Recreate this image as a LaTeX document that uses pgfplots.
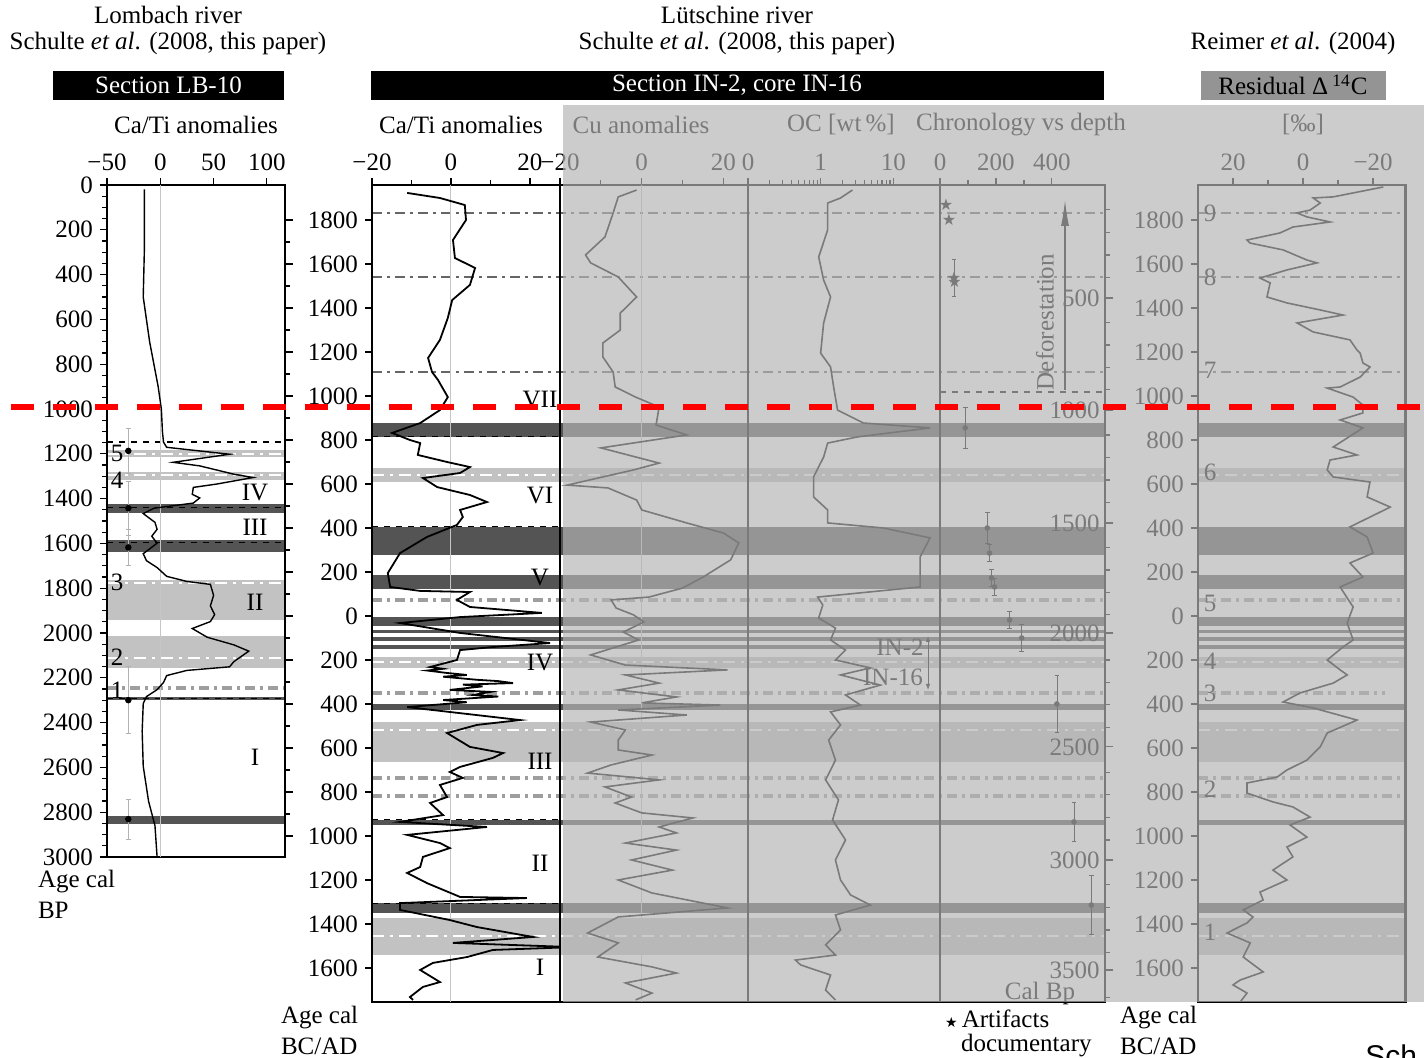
\documentclass[border=0pt]{standalone}
\usepackage{fontspec}
\setmainfont{Liberation Serif}
\newfontfamily\sansf{Liberation Sans}
\newfontfamily\dejavu{DejaVu Sans}
\usepackage{pgfplots}
\pgfplotsset{compat=1.18}
\usetikzlibrary{arrows.meta}

\definecolor{bandDark}{gray}{0.33}
\definecolor{bandLight}{gray}{0.76}
\definecolor{dotline}{gray}{0.62}
\definecolor{thinline}{gray}{0.40}
\definecolor{overlaygray}{RGB}{180,180,180}
\definecolor{resbox}{RGB}{148,148,148}
\newcommand{\fs}{\fontsize{12.5}{14}\selectfont}

\pgfplotsset{
  panel/.style={scale only axis, anchor=south west,
    axis line style={line width=0.9pt},
    tick style={black, line width=0.6pt},
    major tick length=3.5pt, minor tick length=2.5pt,
    tick align=outside,
    xtick pos=right, xticklabel pos=right,
    ytick pos=left,
    tick label style={font=\fs},
    /pgf/number format/assume math mode=true,
    /pgf/number format/1000 sep={},
  },
  bands/.style={scale only axis, anchor=south west, hide axis, xmin=0, xmax=1, clip=false},
}
\tikzset{
  lightdash/.style={white, line width=1.2pt, dash pattern=on 6pt off 3pt on 1.5pt off 3pt},
  grdot/.style={dotline, line width=2pt, dash pattern=on 5pt off 2.5pt on 1.5pt off 2.5pt},
  grthin/.style={thinline, line width=0.8pt, dash pattern=on 5pt off 2.5pt on 1.5pt off 2.5pt},
}

\begin{document}
\begin{tikzpicture}[font=\fs]
\useasboundingbox (0,0) rectangle (712pt,529pt);

% ---------- bands, Lutschine panels ----------
\begin{axis}[bands, at={(186pt,28pt)}, width=366.5pt, height=408.5pt, ymin=-1754.5, ymax=1959.1]
\fill[bandDark] (axis cs:0,877) rectangle (axis cs:1,814);
\fill[bandDark] (axis cs:0,405) rectangle (axis cs:1,277);
\fill[bandDark] (axis cs:0,186) rectangle (axis cs:1,123);
\fill[bandDark] (axis cs:0,-5) rectangle (axis cs:1,-45);
\fill[bandDark] (axis cs:0,-64) rectangle (axis cs:1,-77);
\fill[bandDark] (axis cs:0,-95) rectangle (axis cs:1,-114);
\fill[bandDark] (axis cs:0,-132) rectangle (axis cs:1,-150);
\fill[bandDark] (axis cs:0,-400) rectangle (axis cs:1,-427);
\fill[bandDark] (axis cs:0,-927) rectangle (axis cs:1,-950);
\fill[bandDark] (axis cs:0,-1305) rectangle (axis cs:1,-1350);
\fill[bandLight] (axis cs:0,673) rectangle (axis cs:1,609);
\fill[bandLight] (axis cs:0,-186) rectangle (axis cs:1,-236);
\fill[bandLight] (axis cs:0,-482) rectangle (axis cs:1,-664);
\fill[bandLight] (axis cs:0,-1373) rectangle (axis cs:1,-1541);
\draw[lightdash] (axis cs:0,641) -- (axis cs:1,641);
\draw[lightdash] (axis cs:0,-209) -- (axis cs:1,-209);
\draw[lightdash] (axis cs:0,-518) -- (axis cs:1,-518);
\draw[lightdash] (axis cs:0,-1455) -- (axis cs:1,-1455);
\draw[grthin] (axis cs:0,1832) -- (axis cs:1,1832);
\draw[grthin] (axis cs:0,1541) -- (axis cs:1,1541);
\draw[grthin] (axis cs:0,1109) -- (axis cs:1,1109);
\draw[grdot] (axis cs:0,73) -- (axis cs:1,73);
\draw[grdot] (axis cs:0,-350) -- (axis cs:1,-350);
\draw[grdot] (axis cs:0,-736) -- (axis cs:1,-736);
\draw[grdot] (axis cs:0,-818) -- (axis cs:1,-818);
\draw[black, dashed, line width=0.5pt] (axis cs:0,814) -- (axis cs:0.26,814);
\draw[black, dashed, line width=0.5pt] (axis cs:0,405) -- (axis cs:0.26,405);
\draw[black, dashed, line width=0.5pt] (axis cs:0,-927) -- (axis cs:0.26,-927);
\draw[black, dashed, line width=0.5pt] (axis cs:0,-1305) -- (axis cs:0.26,-1305);
\end{axis}

% ---------- bands, residual panel ----------
\begin{axis}[bands, at={(599pt,28pt)}, width=104pt, height=408.5pt, ymin=-1754.5, ymax=1959.1]
\fill[bandDark] (axis cs:0,877) rectangle (axis cs:1,814);
\fill[bandDark] (axis cs:0,405) rectangle (axis cs:1,277);
\fill[bandDark] (axis cs:0,186) rectangle (axis cs:1,123);
\fill[bandDark] (axis cs:0,-5) rectangle (axis cs:1,-45);
\fill[bandDark] (axis cs:0,-64) rectangle (axis cs:1,-77);
\fill[bandDark] (axis cs:0,-95) rectangle (axis cs:1,-114);
\fill[bandDark] (axis cs:0,-132) rectangle (axis cs:1,-150);
\fill[bandDark] (axis cs:0,-400) rectangle (axis cs:1,-427);
\fill[bandDark] (axis cs:0,-927) rectangle (axis cs:1,-950);
\fill[bandDark] (axis cs:0,-1305) rectangle (axis cs:1,-1350);
\fill[bandLight] (axis cs:0,673) rectangle (axis cs:1,609);
\fill[bandLight] (axis cs:0,-186) rectangle (axis cs:1,-236);
\fill[bandLight] (axis cs:0,-482) rectangle (axis cs:1,-664);
\fill[bandLight] (axis cs:0,-1373) rectangle (axis cs:1,-1541);
\draw[lightdash] (axis cs:0,641) -- (axis cs:1,641);
\draw[lightdash] (axis cs:0,-209) -- (axis cs:1,-209);
\draw[lightdash] (axis cs:0,-518) -- (axis cs:1,-518);
\draw[lightdash] (axis cs:0,-1455) -- (axis cs:1,-1455);
\draw[grthin] (axis cs:0,1832) -- (axis cs:1,1832);
\draw[grthin] (axis cs:0,1541) -- (axis cs:1,1541);
\draw[grthin] (axis cs:0,1109) -- (axis cs:1,1109);
\draw[grdot] (axis cs:0,73) -- (axis cs:1,73);
\draw[grdot] (axis cs:0,-350) -- (axis cs:0.9,-350);
\draw[grdot] (axis cs:0,-736) -- (axis cs:1,-736);
\draw[grdot] (axis cs:0,-818) -- (axis cs:1,-818);
\end{axis}

% ---------- bands, Lombach panel (cal BP) ----------
\begin{axis}[bands, at={(53.5pt,100.5pt)}, width=89pt, height=336pt, ymin=0, ymax=3000, y dir=reverse]
\fill[bandLight] (axis cs:0,1183) rectangle (axis cs:1,1214);
\fill[bandLight] (axis cs:0,1281) rectangle (axis cs:1,1317);
\fill[bandDark] (axis cs:0,1424) rectangle (axis cs:1,1464);
\fill[bandDark] (axis cs:0,1585) rectangle (axis cs:1,1638);
\fill[bandLight] (axis cs:0,1763) rectangle (axis cs:1,1942);
\fill[bandLight] (axis cs:0,2013) rectangle (axis cs:1,2156);
\fill[bandDark] (axis cs:0,2286) rectangle (axis cs:1,2299);
\fill[bandDark] (axis cs:0,2817) rectangle (axis cs:1,2853);
\draw[lightdash] (axis cs:0,1200) -- (axis cs:1,1200);
\draw[lightdash] (axis cs:0,1295) -- (axis cs:1,1295);
\draw[lightdash] (axis cs:0,1777) -- (axis cs:1,1777);
\draw[lightdash] (axis cs:0,2112) -- (axis cs:1,2112);
\draw[grdot] (axis cs:0,2246) -- (axis cs:1,2246);
\draw[black, dashed, line width=0.6pt] (axis cs:0,1147) -- (axis cs:1,1147);
\draw[black, dashed, line width=0.5pt] (axis cs:0,1440) -- (axis cs:1,1440);
\draw[black, dashed, line width=0.5pt] (axis cs:0,1598) -- (axis cs:1,1598);
\draw[black, dashed, line width=0.5pt] (axis cs:0,2292) -- (axis cs:1,2292);
\end{axis}

% ---------- Lombach Ca/Ti ----------
\begin{axis}[panel, at={(53.5pt,100.5pt)}, width=89pt, height=336pt,
  xmin=-50, xmax=117, ymin=0, ymax=3000, y dir=reverse,
  xtick={-50,0,50,100}, xticklabels={−50,0,50,100},
  ytick={0,200,...,3000}, minor y tick num=3]
\draw[gray!45, line width=0.5pt] (axis cs:0,0) -- (axis cs:0,3000);
\addplot[black, line width=0.7pt] coordinates {
(-15,20)(-15,300)(-16,500)(-13,600)(-10,700)(-6,800)(-2,900)(1,1000)(2,1100)(3,1148)(6,1171)
(65,1202)(12,1238)(37,1254)(69,1291)(87,1306)(53,1335)(31,1350)(30,1381)(37,1397)(31,1420)
(-6,1443)(-16,1467)(-5,1506)(-3,1537)(-8,1568)(-3,1599)(-16,1646)(-13,1677)(-3,1708)(6,1747)
(25,1770)(47,1783)(50,1832)(47,1879)(51,1918)(47,1949)(30,1980)(44,2019)(69,2053)(83,2081)
(69,2128)(65,2151)(25,2167)(6,2190)(3,2221)(-3,2253)(-13,2284)(-16,2315)(-17,2439)(-16,2595)
(-11,2751)(-5,2860)(-3,3000)};
\addplot[only marks, mark=*, mark size=1.4pt, black,
  error bars/.cd, y dir=both, y explicit, error bar style={gray!60, line width=0.5pt}]
  coordinates {(-30,1187) +- (0,100) (-30,1443) +- (0,120) (-30,1618) +- (0,80)
  (-30,2300) +- (0,150) (-30,2831) +- (0,90)};
\end{axis}

% AD ticks at right of Lombach panel
\begin{axis}[scale only axis, anchor=south west, at={(53.5pt,100.5pt)}, width=89pt, height=336pt,
  xmin=0, xmax=1, ymin=-1095.5, ymax=1959.1, hide x axis, axis y line*=right,
  y axis line style={draw=none}, ytick={-1000,-800,...,1800}, yticklabels={},
  minor y tick num=1, tick align=outside, major tick length=4pt, minor tick length=2.5pt,
  tick style={black, line width=0.6pt}]
\end{axis}

% ---------- Lutschine Ca/Ti ----------
\begin{axis}[panel, at={(186pt,28pt)}, width=94pt, height=408.5pt,
  xmin=-20, xmax=27.6, ymin=-1754.5, ymax=1959.1,
  xtick={-20,0,20}, xticklabels={−20,0,20}, minor xtick={-10,10},
  ytick={-1600,-1400,...,1800},
  yticklabels={1600,1400,1200,1000,800,600,400,200,0,200,400,600,800,1000,1200,1400,1600,1800}]
\draw[gray!45, line width=0.5pt] (axis cs:0,-1754.5) -- (axis cs:0,1959.1);
\addplot[black, line width=0.9pt] coordinates {
(-11.1,1923)(-2.8,1900)(3.5,1868)(3.8,1800)(0.5,1709)(1.0,1627)(6.1,1582)(4.8,1505)(0.3,1436)
(-0.8,1355)(-2.8,1255)(-5.8,1173)(-4.8,1109)(-3.3,1073)(-0.8,995)(-2.8,936)(-7.8,877)(-14.9,832)
(-10.4,800)(-7.8,786)(-8.4,732)(-1.0,700)(4.8,677)(2.3,650)(-7.1,627)(-3.5,586)(4.8,550)(9.1,518)
(2.3,482)(3.0,450)(1.5,414)(-6.1,359)(-12.9,286)(-16.0,195)(-15.4,132)(-7.8,114)(4.8,109)(1.5,73)
(4.8,41)(23.0,14)(2.3,-5)(-12.9,-32)(2.3,-77)(25.1,-123)(10.6,-141)(2.3,-155)(1.5,-200)(-5.3,-232)
(-2,-240)(-6,-248)(-1,-259)(4,-268)(-2,-276)(6.6,-290)(12,-296)(15.7,-305)(3,-312)(8,-320)
(-0.3,-336)(10,-345)(5.6,-359)(12,-366)(-2,-382)(4,-392)(-11.1,-414)(17.5,-473)(6.6,-495)(-1.0,-532)
(4.8,-595)(13.2,-623)(10.6,-645)(2.3,-686)(-0.3,-709)(3.0,-736)(-2.8,-768)(-1.0,-823)(-5.3,-850)
(-2.0,-905)(-12.9,-936)(9.1,-959)(-11.1,-995)(-2.8,-1032)(-0.3,-1055)(-7.1,-1095)(-7.8,-1141)
(-11.1,-1168)(-6.1,-1214)(2.3,-1277)(19.2,-1282)(-12.9,-1305)(-12.9,-1336)(-0.3,-1382)(6.6,-1414)
(20.8,-1459)(0.5,-1486)(30.9,-1505)(10.6,-1518)(4.1,-1550)(-4.6,-1577)(-7.8,-1609)(-2.8,-1664)
(-7.1,-1686)(-10.4,-1732)(-9.6,-1745)};
\end{axis}

% ---------- Cu ----------
\begin{axis}[panel, at={(280pt,28pt)}, width=94pt, height=408.5pt,
  xmin=-20, xmax=26, ymin=-1754.5, ymax=1959.1,
  xtick={-20,0,20}, xticklabels={−20,0,20}, minor xtick={-10,10}, ytick=\empty]
\draw[gray!45, line width=0.5pt] (axis cs:0,-1754.5) -- (axis cs:0,1959.1);
\addplot[black, line width=0.8pt] coordinates {
(-1.25,1936)(-5.75,1905)(-7,1832)(-9,1723)(-13.75,1641)(-12.5,1605)(-5.75,1541)(-1.25,1450)
(-5.25,1377)(-5.25,1300)(-9.5,1241)(-9.5,1177)(-7,1109)(-6.5,1041)(-1.5,995)(4.25,950)(3.5,868)
(11,823)(-10,764)(4.25,695)(-2,664)(-18.25,595)(-8.25,582)(-1.25,527)(0,482)(11,423)(20,377)
(23.75,332)(21.75,255)(15,177)(10,127)(1.75,86)(-7.5,73)(-6.25,36)(-2,5)(0.5,-27)(-4.5,-73)
(-0.75,-109)(-7,-145)(-12.5,-177)(-4,-223)(21,-245)(-4,-268)(4.25,-305)(-5.75,-336)(8.5,-368)
(0,-395)(19.25,-405)(-5.75,-427)(11,-450)(-12.5,-482)(-4,-518)(-5.75,-564)(-5.75,-609)(2.5,-632)
(-7.5,-677)(-13.25,-714)(4.25,-745)(-9,-777)(-2.5,-823)(-6.5,-850)(0,-895)(12.5,-918)(4.25,-959)
(8.5,-986)(-4,-1032)(8.5,-1064)(-2.5,-1109)(7.5,-1155)(-5.75,-1200)(2.5,-1259)(21,-1327)
(-5.75,-1368)(-13.25,-1441)(-5.75,-1486)(-10.75,-1550)(2.5,-1595)(8.5,-1623)(-4,-1668)
(2.5,-1714)(-1.5,-1745)};
\end{axis}

% ---------- OC ----------
\begin{axis}[panel, at={(374pt,28pt)}, width=96pt, height=408.5pt,
  xmode=log, xmin=0.1, xmax=44, ymin=-1754.5, ymax=1959.1,
  xtick={0.1,1,10}, xticklabels={0,1,10}, ytick=\empty]
\addplot[black, line width=0.8pt] coordinates {
(2.74,1936)(1.88,1900)(1.25,1877)(1.25,1755)(0.94,1632)(1.10,1527)(1.37,1450)(1.10,1332)(1.0,1195)
(1.37,1132)(1.51,1041)(1.71,936)(3.88,877)(32.1,855)(3.21,814)(1.25,786)(1.10,723)(0.80,632)
(0.80,541)(1.25,482)(1.25,423)(7.3,400)(32.1,355)(23.4,268)(23.4,132)(0.91,86)(1.07,50)(0.94,-9)
(1.60,-55)(1.37,-109)(2.20,-155)(1.60,-200)(4.84,-236)(1.88,-268)(6.63,-314)(2.20,-359)
(3.53,-405)(1.37,-436)(1.88,-495)(1.29,-564)(1.60,-655)(1.17,-745)(1.76,-836)(1.46,-927)
(2.20,-1018)(1.60,-1109)(1.88,-1200)(2.58,-1268)(4.84,-1314)(1.60,-1359)(1.88,-1427)(1.17,-1495)
(1.60,-1541)(0.45,-1564)(0.53,-1586)(1.37,-1632)(1.17,-1700)(1.60,-1745)};
\end{axis}

% ---------- Chronology vs depth ----------
\begin{axis}[panel, at={(470pt,28pt)}, width=82.5pt, height=408.5pt,
  xmin=0, xmax=590, ymin=-1754.5, ymax=1959.1,
  xtick={0,200,400}, minor x tick num=1, ytick=\empty]
\draw[black, dashed, line width=0.8pt] (axis cs:0,1018) -- (axis cs:590,1018);
\draw[black, line width=0.6pt, -{Latex[length=13pt,width=4pt]}] (axis cs:447,1027) -- (axis cs:447,1891);
\node[rotate=90] at (axis cs:375,1336) {Deforestation};
\addplot[only marks, mark=*, mark size=1.2pt, black,
  error bars/.cd, y dir=both, y explicit, error bar style={black, line width=0.4pt}]
  coordinates {(50,1536) +- (0,85) (90,855) +- (0,93) (169,400) +- (0,70) (177,286) +- (0,40)
  (184,173) +- (0,40) (195,132) +- (0,40) (249,-18) +- (0,40) (292,-100) +- (0,60)
  (418,-400) +- (0,130) (479,-936) +- (0,90) (541,-1314) +- (0,135)};
\addplot[only marks, mark=text, text mark={\dejavu\fontsize{8}{8}\selectfont ★}]
  coordinates {(22,1868)(32,1800)(50,1536)(52,1518)};
\end{axis}
\begin{axis}[scale only axis, anchor=south west, at={(470pt,28pt)}, width=82.5pt, height=408.5pt,
  xmin=0, xmax=1, ymin=-1754.5, ymax=1959.1, hide x axis, axis y line*=right,
  y axis line style={draw=none}, tick align=outside, major tick length=4pt, minor tick length=2.5pt,
  tick style={black, line width=0.6pt},
  ytick={1445,936,423,-77,-595,-1109,-1609}, yticklabels={500,1000,1500,2000,2500,3000,3500},
  minor ytick={1846,1743,1641,1539,1334,1232,1130,1028,823,721,618,516,312,209,107,5,-200,-302,-404,-507,-711,-813,-916,-1018,-1222,-1325,-1427,-1529,-1734},
  yticklabel style={anchor=east, xshift=-5.5pt, inner sep=1pt, font=\fs}]
\end{axis}

% ---------- Residual 14C ----------
\begin{axis}[panel, at={(599pt,28pt)}, width=104pt, height=408.5pt,
  xmin=-29.4, xmax=30, x dir=reverse, ymin=-1754.5, ymax=1959.1,
  xtick={20,0,-20}, xticklabels={20,0,−20}, minor xtick={10,-10},
  ytick={-1600,-1400,...,1800},
  yticklabels={1600,1400,1200,1000,800,600,400,200,0,200,400,600,800,1000,1200,1400,1600,1800}]
\draw[line width=1.6pt] (rel axis cs:1,0) -- (rel axis cs:1,1);
\addplot[black, line width=0.8pt] coordinates {
(-22.9,1950)(-8.6,1905)(-2.9,1900)(-4.9,1877)(-2.0,1845)(1.7,1832)(-1.1,1814)(-7.7,1791)(2.9,1768)
(6.6,1741)(16.0,1709)(15.1,1695)(5.7,1664)(-1.1,1618)(-4.0,1605)(4.6,1573)(12.3,1536)(9.4,1514)
(10.3,1450)(4.6,1423)(-4.9,1391)(-11.4,1368)(1.7,1332)(-2.9,1291)(-13.4,1255)(-15.4,1209)
(-16.3,1195)(-17.1,1150)(-19.1,1132)(-16.3,1086)(-10.6,1041)(-6.9,1036)(-14.3,995)(-17.1,959)
(-17.1,923)(-10.6,891)(-17.1,855)(-8.6,768)(-15.4,732)(-7.7,709)(-6.9,664)(-8.6,632)(-19.1,609)
(-18.3,541)(-24.9,495)(-13.4,405)(-18.3,359)(-20.0,286)(-13.4,241)(-17.1,177)(-10.6,132)
(-12.6,82)(-14.3,41)(-12.6,-32)(-14.3,-109)(-11.4,-141)(-6.9,-200)(-10.6,-245)(-12.6,-268)
(-8.6,-305)(0.9,-350)(5.7,-391)(-2.9,-418)(-15.4,-473)(-6.9,-532)(-4.9,-595)(-1.1,-655)(4.6,-700)
(7.4,-732)(16.0,-759)(16.0,-805)(8.6,-845)(2.9,-868)(-2.0,-914)(3.7,-950)(-1.1,-1005)(4.6,-1050)
(2.9,-1095)(8.6,-1155)(4.6,-1200)(12.3,-1255)(11.4,-1291)(17.1,-1336)(14.3,-1368)(16.0,-1395)
(21.7,-1441)(15.1,-1486)(17.1,-1550)(11.4,-1618)(18.0,-1655)(20.0,-1677)(16.0,-1714)(18.0,-1755)};
\end{axis}

% ---------- texts in the faded region (drawn before the overlay) ----------
\node at (320.5pt,466.5pt) {Cu anomalies};
\node at (420.5pt,466.5pt) {OC [wt\,\%]};
\node at (510.5pt,466.5pt) {Chronology vs depth};
\node at (651.5pt,466.5pt) {[‰]};
\node at (450pt,205.5pt) {IN-2};
\node at (446.5pt,190.5pt) {IN-16};
\draw[line width=0.5pt, {Latex[length=3pt]}-{Latex[length=3pt]}] (464pt,211pt) -- (464pt,184pt);
\node[inner sep=0pt] at (520pt,32.5pt) {Cal Bp};
\foreach \n/\y in {9/422.5, 8/390.5, 7/344, 6/293, 5/227.5, 4/198.5, 3/182.5, 2/134.5, 1/63}
  \node at (605pt,\y pt) {\n};

% ---------- translucent gray layer ----------
\fill[overlaygray, fill opacity=0.682] (281.5pt,28pt) rectangle (712pt,476.5pt);

% ---------- texts outside ----------
\node at (84pt,521.5pt) {Lombach river};
\node at (84pt,507pt) {Schulte \textit{et al}. (2008, this paper)};
\node at (368.5pt,521.5pt) {Lütschine river};
\node at (368.5pt,507pt) {Schulte \textit{et al}. (2008, this paper)};
\node at (646.5pt,507pt) {Reimer \textit{et al}. (2004)};
\fill[black] (26.5pt,479pt) rectangle (142pt,493.5pt);
\node[white] at (84.25pt,486.5pt) {Section LB-10};
\fill[black] (185.5pt,479pt) rectangle (552pt,493.5pt);
\node[white] at (368.5pt,486.5pt) {Section IN-2, core IN-16};
\fill[resbox] (600.5pt,479pt) rectangle (693pt,493.5pt);
\node at (646.5pt,486.5pt) {Residual Δ\,\textsuperscript{14}C};
\node at (98pt,466.5pt) {Ca/Ti anomalies};
\node at (230.5pt,466.5pt) {Ca/Ti anomalies};

\node[anchor=west] at (15.5pt,88pt) {Age cal};
\node[anchor=west] at (15.5pt,74pt) {BP};
\node[anchor=west] at (137pt,20pt) {Age cal};
\node[anchor=west] at (137pt,6pt) {BC/AD};
\node[anchor=west] at (556.5pt,20pt) {Age cal};
\node[anchor=west] at (556.5pt,6pt) {BC/AD};
\node[anchor=west] at (469pt,19.5pt) {{\dejavu\fontsize{7}{7}\selectfont ★}\,Artifacts};
\node[anchor=west] at (477pt,6pt) {documentary};

\foreach \t/\y in {5/302.5, 4/289, 3/238, 2/200.5, 1/184}
  \node at (58.5pt,\y pt) {\t};
\foreach \t/\y in {IV/282.5, III/265.5, II/228, I/150.5}
  \node at (127.5pt,\y pt) {\t};
\foreach \t/\y in {VII/329, VI/281, V/240, IV/197.5, III/148.5, II/97.5, I/45.5}
  \node at (270pt,\y pt) {\t};

% ---------- red dashed line ----------
\draw[red, line width=3pt, dash pattern=on 11.5pt off 9.5pt] (5.5pt,325.5pt) -- (712pt,325.5pt);

\node[anchor=base west, inner sep=0pt, font=\sansf\fontsize{15}{15}\selectfont] at (682.5pt,-4.3pt) {Sch};
\end{tikzpicture}
\end{document}
